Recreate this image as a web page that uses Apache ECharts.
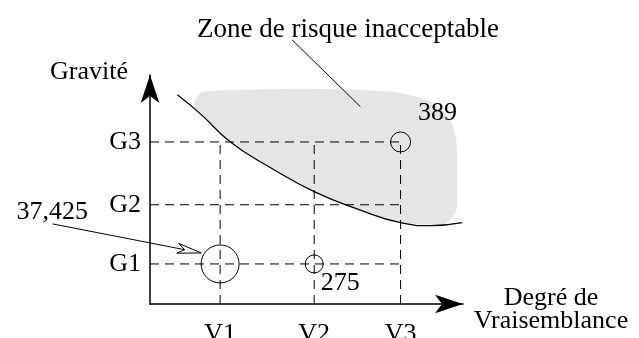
<!DOCTYPE html>
<html>
<head>
<meta charset="utf-8">
<script src="https://cdn.jsdelivr.net/npm/echarts@6/dist/echarts.min.js"></script>
<style>
  html, body { margin: 0; padding: 0; background: #fff; }
  #chart { width: 639px; height: 338px; }
</style>
</head>
<body>
<div id="chart"></div>
<script>
// niveaux qualitatifs sur les axes
const vLabels = ['V1', 'V2', 'V3'];
const vPos = [0.82, 1.92, 2.93];
const gLabels = ['G1', 'G2', 'G3'];
const gPos = [0.67, 1.66, 2.71];

// événements redoutés : vraisemblance, gravité, valeur
const riskV = [0.82, 1.92, 2.93];
const riskG = [0.67, 0.67, 2.71];
const riskLabels = ['37,425', '275', '389'];

// courbe limite d'acceptabilité
const limitX = [0.32, 0.59, 0.94, 1.41, 1.92, 2.46, 2.93, 3.28, 3.65];
const limitY = [3.50, 3.18, 2.71, 2.28, 1.88, 1.57, 1.36, 1.31, 1.36];

// contour de la zone grisée
const zoneX = [0.52, 0.54, 0.64, 1.05, 1.76, 2.46, 2.93, 3.28, 3.49, 3.58, 3.59, 3.59, 3.57, 3.51, 3.45,
               2.93, 2.46, 1.92, 1.41, 0.94, 0.64];
const zoneY = [3.25, 3.45, 3.55, 3.58, 3.60, 3.58, 3.53, 3.38, 3.12, 2.75, 2.16, 1.66, 1.52, 1.41, 1.34,
               1.36, 1.57, 1.88, 2.28, 2.71, 3.10];

// flèches d'annotation [x0, y0, x1, y1]
const zoneLeader = [1.66, 4.42, 2.46, 3.30];
const valueArrow = [-1.14, 1.34, 0.6, 0.854];

const FONT = 'Liberation Serif';
const circleSizes = [38, 18, 20];
const labelOffsets = [[-168, -52], [26, 19], [37, -29]];

const chart = echarts.init(document.getElementById('chart'), null, { renderer: 'canvas' });

const dashed = { color: '#000', width: 1, type: [9, 6] };
const guideSeries = [];
gPos.forEach(g => {
  guideSeries.push({
    type: 'line', data: [[0, g], [vPos[2], g]], symbol: 'none', silent: true, z: 2,
    lineStyle: dashed
  });
});
vPos.forEach(v => {
  guideSeries.push({
    type: 'line', data: [[v, 0], [v, gPos[2]]], symbol: 'none', silent: true, z: 2,
    lineStyle: dashed
  });
});

function arrowItem(params, api) {
  const p0 = api.coord([valueArrow[0], valueArrow[1]]);
  const p1 = api.coord([valueArrow[2], valueArrow[3]]);
  const dx = p1[0] - p0[0], dy = p1[1] - p0[1];
  const len = Math.sqrt(dx * dx + dy * dy);
  const ux = dx / len, uy = dy / len;
  const nx = -uy, ny = ux;
  const L = 24, W = 5, notch = 17;
  const back = [p1[0] - ux * L, p1[1] - uy * L];
  const inner = [p1[0] - ux * notch, p1[1] - uy * notch];
  const l0 = api.coord([zoneLeader[0], zoneLeader[1]]);
  const l1 = api.coord([zoneLeader[2], zoneLeader[3]]);
  return {
    type: 'group',
    children: [
      { type: 'line', shape: { x1: l0[0], y1: l0[1], x2: l1[0], y2: l1[1] },
        style: { stroke: '#000', lineWidth: 1 } },
      { type: 'line', shape: { x1: p0[0], y1: p0[1], x2: inner[0], y2: inner[1] },
        style: { stroke: '#000', lineWidth: 1 } },
      { type: 'polygon',
        shape: { points: [p1, [back[0] + nx * W, back[1] + ny * W], inner, [back[0] - nx * W, back[1] - ny * W]] },
        style: { fill: '#fff', stroke: '#000', lineWidth: 1 } }
    ]
  };
}

const option = {
  backgroundColor: '#fff',
  animation: false,
  title: {
    text: 'Zone de risque inacceptable',
    left: 192, top: 11,
    textStyle: { fontFamily: FONT, fontSize: 27, fontWeight: 'normal', color: '#000' }
  },
  grid: { left: 150, top: 75, width: 313, height: 229, containLabel: false, outerBoundsMode: 'none' },
  xAxis: {
    type: 'value', min: 0, max: 3.66,
    name: '{a|Degré de}\n{b|Vraisemblance}',
    nameLocation: 'end', nameGap: 88,
    nameTextStyle: {
      fontFamily: FONT, fontSize: 26, color: '#000', align: 'center', verticalAlign: 'middle',
      rich: {
        a: { fontFamily: FONT, fontSize: 26, color: '#000', lineHeight: 25, padding: [14, 0, 0, 0] },
        b: { fontFamily: FONT, fontSize: 26, color: '#000', lineHeight: 25, padding: [10, 0, 0, 0] }
      }
    },
    axisLine: { show: true, symbol: ['none', 'arrow'], symbolSize: [14, 28],
      lineStyle: { color: '#000', width: 1.5 } },
    axisTick: { show: false },
    splitLine: { show: false },
    axisLabel: {
      customValues: vPos, margin: 17,
      formatter: v => vLabels[vPos.indexOf(v)] || '',
      fontFamily: FONT, fontSize: 26, color: '#000'
    }
  },
  yAxis: {
    type: 'value', min: 0, max: 3.83,
    name: 'Gravité',
    nameLocation: 'end', nameGap: 3,
    nameTextStyle: { fontFamily: FONT, fontSize: 26, color: '#000', align: 'right',
      verticalAlign: 'middle', padding: [0, 22, 0, 0] },
    axisLine: { show: true, symbol: ['none', 'arrow'], symbolSize: [14, 28],
      lineStyle: { color: '#000', width: 1.5 } },
    axisTick: { show: false },
    splitLine: { show: false },
    axisLabel: {
      customValues: gPos, margin: 9,
      formatter: v => gLabels[gPos.indexOf(v)] || '',
      fontFamily: FONT, fontSize: 26, color: '#000'
    }
  },
  series: [
    {
      type: 'custom', coordinateSystem: 'cartesian2d', data: [[0, 0]], clip: false,
      silent: true, z: 1,
      renderItem: (params, api) => ({
        type: 'polygon',
        shape: { points: zoneX.map((x, i) => api.coord([x, zoneY[i]])), smooth: 0.3 },
        style: { fill: '#e5e5e5' }
      })
    },
    ...guideSeries,
    {
      type: 'line', data: limitX.map((x, i) => [x, limitY[i]]), smooth: 0.5,
      symbol: 'none', clip: false, silent: true, z: 3,
      lineStyle: { color: '#000', width: 1.2 }
    },
    {
      type: 'scatter', z: 4, clip: false,
      data: riskV.map((v, i) => ({
        value: [v, riskG[i]],
        symbolSize: circleSizes[i],
        label: { show: true, position: 'inside', offset: labelOffsets[i], formatter: riskLabels[i] }
      })),
      symbol: 'circle',
      itemStyle: { color: 'rgba(0,0,0,0)', borderColor: '#000', borderWidth: 1, opacity: 1 },
      label: { fontFamily: FONT, fontSize: 26, color: '#000' }
    },
    {
      type: 'custom', coordinateSystem: 'cartesian2d', data: [[0, 0]], clip: false,
      silent: true, z: 5,
      renderItem: arrowItem
    }
  ]
};

chart.setOption(option);
window.addEventListener('resize', () => chart.resize());
</script>
</body>
</html>
